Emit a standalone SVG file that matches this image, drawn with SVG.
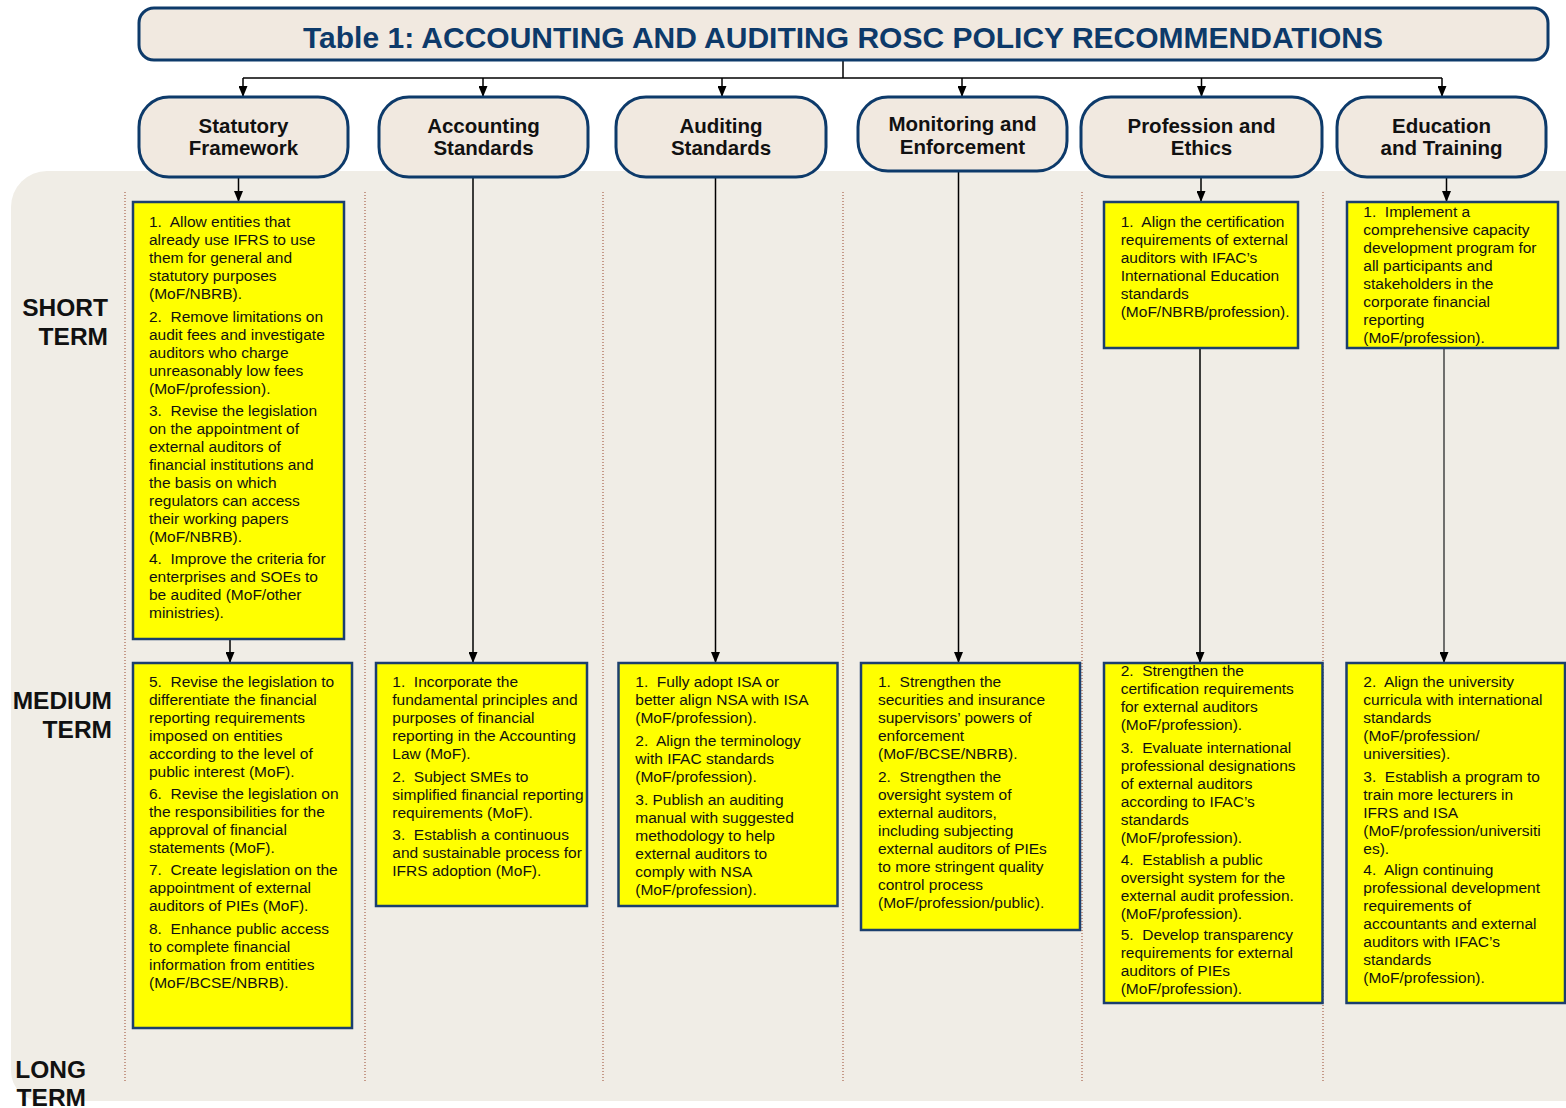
<svg xmlns="http://www.w3.org/2000/svg" width="1566" height="1108" viewBox="0 0 1566 1108">
  <style>
    .panel { fill: #f0ede6; }
    .title-box { fill: #f1e9e0; stroke: #0d3a6a; stroke-width: 3; }
    .title { font-family: "Liberation Sans", Arial, sans-serif; font-weight: bold; font-size: 30px; fill: #0d3a6a; text-anchor: middle; }
    .head-box { fill: #f1e9e0; stroke: #0d3a6a; stroke-width: 3; }
    .head { font-family: "Liberation Sans", Arial, sans-serif; font-weight: bold; font-size: 20.5px; fill: #111; text-anchor: middle; }
    .term { font-family: "Liberation Sans", Arial, sans-serif; font-weight: bold; font-size: 24.5px; fill: #111; text-anchor: end; }
    .rec-box { fill: #ffff00; stroke: #1b3f6e; stroke-width: 2.5; }
    .rec { font-family: "Liberation Sans", Arial, sans-serif; font-size: 15.5px; fill: #111; white-space: pre; }
    .sep { stroke: #b77f6b; stroke-width: 1.5; stroke-dasharray: 1 2; fill: none; }
    .link { stroke: #000; stroke-width: 1.5; fill: none; }
    .link-arrow { stroke: #000; stroke-width: 1.5; fill: none; marker-end: url(#arrow); }
  </style>
  <defs>
    <marker id="arrow" viewBox="0 0 10 10" refX="10" refY="5" markerWidth="11" markerHeight="9" markerUnits="userSpaceOnUse" orient="auto" preserveAspectRatio="none">
      <path d="M0,0 L10,5 L0,10 Z" fill="#000"/>
    </marker>
  </defs>

  <!-- background band holding the term rows -->
  <path class="panel" d="M47 171 H1570 V1101 H41 A30 30 0 0 1 11 1071 V207 A36 36 0 0 1 47 171 Z"/>

  <!-- column separators -->
  <g id="separators">
    <line class="sep" x1="125" y1="192" x2="125" y2="1081"/>
    <line class="sep" x1="365" y1="192" x2="365" y2="1081"/>
    <line class="sep" x1="603" y1="192" x2="603" y2="1081"/>
    <line class="sep" x1="843" y1="192" x2="843" y2="1081"/>
    <line class="sep" x1="1082" y1="192" x2="1082" y2="1081"/>
    <line class="sep" x1="1323" y1="192" x2="1323" y2="1081"/>
  </g>

  <!-- row labels -->
  <g id="term-labels">
    <text class="term" x="108" y="316">SHORT</text>
    <text class="term" x="108" y="345">TERM</text>
    <text class="term" x="112" y="709">MEDIUM</text>
    <text class="term" x="112" y="738">TERM</text>
    <text class="term" x="86" y="1078">LONG</text>
    <text class="term" x="86" y="1106">TERM</text>
  </g>

  <!-- connectors -->
  <g id="connectors">
    <line class="link" x1="843" y1="60" x2="843" y2="78"/>
    <line class="link" x1="243" y1="78" x2="1442" y2="78"/>
    <line class="link-arrow" x1="243" y1="78" x2="243" y2="97"/>
    <line class="link-arrow" x1="483" y1="78" x2="483" y2="97"/>
    <line class="link-arrow" x1="722" y1="78" x2="722" y2="97"/>
    <line class="link-arrow" x1="962" y1="78" x2="962" y2="97"/>
    <line class="link-arrow" x1="1201.5" y1="78" x2="1201.5" y2="97"/>
    <line class="link-arrow" x1="1442" y1="78" x2="1442" y2="97"/>

    <line class="link-arrow" x1="238.5" y1="178" x2="238.5" y2="202"/>
    <line class="link-arrow" x1="230" y1="639" x2="230" y2="663"/>
    <line class="link-arrow" x1="473" y1="178" x2="473" y2="663"/>
    <line class="link-arrow" x1="715.5" y1="178" x2="715.5" y2="663"/>
    <line class="link-arrow" x1="958.5" y1="172" x2="958.5" y2="663"/>
    <line class="link-arrow" x1="1201" y1="178" x2="1201" y2="202"/>
    <line class="link-arrow" x1="1200" y1="348" x2="1200" y2="663"/>
    <line class="link-arrow" x1="1446.5" y1="178" x2="1446.5" y2="202"/>
    <line class="link-arrow" x1="1444" y1="348" x2="1444" y2="663" style="stroke:#444"/>
  </g>

  <!-- title -->
  <g id="title">
    <rect class="title-box" x="139" y="8" width="1409" height="52" rx="15"/>
    <text class="title" x="843" y="48">Table 1: ACCOUNTING AND AUDITING ROSC POLICY RECOMMENDATIONS</text>
  </g>

  <!-- category headers -->
  <g id="head-statutory">
    <rect class="head-box" x="139" y="97" width="209" height="80" rx="30"/>
    <text class="head" x="243.5" y="133">Statutory</text>
    <text class="head" x="243.5" y="155">Framework</text>
  </g>
  <g id="head-accounting">
    <rect class="head-box" x="379" y="97" width="209" height="80" rx="30"/>
    <text class="head" x="483.5" y="133">Accounting</text>
    <text class="head" x="483.5" y="155">Standards</text>
  </g>
  <g id="head-auditing">
    <rect class="head-box" x="616" y="97" width="210" height="80" rx="30"/>
    <text class="head" x="721" y="133">Auditing</text>
    <text class="head" x="721" y="155">Standards</text>
  </g>
  <g id="head-monitoring">
    <rect class="head-box" x="858" y="97" width="209" height="74" rx="30"/>
    <text class="head" x="962.5" y="131">Monitoring and</text>
    <text class="head" x="962.5" y="154">Enforcement</text>
  </g>
  <g id="head-profession">
    <rect class="head-box" x="1081" y="97" width="241" height="80" rx="30"/>
    <text class="head" x="1201.5" y="133">Profession and</text>
    <text class="head" x="1201.5" y="155">Ethics</text>
  </g>
  <g id="head-education">
    <rect class="head-box" x="1337" y="97" width="209" height="80" rx="30"/>
    <text class="head" x="1441.5" y="133">Education</text>
    <text class="head" x="1441.5" y="155">and Training</text>
  </g>

  <!-- Statutory Framework: short term -->
  <g id="rec-statutory-short">
    <rect class="rec-box" x="133" y="202" width="211" height="437"/>
    <text class="rec">
      <tspan x="149" y="227">1.  Allow entities that</tspan>
      <tspan x="149" y="245">already use IFRS to use</tspan>
      <tspan x="149" y="263">them for general and</tspan>
      <tspan x="149" y="281">statutory purposes</tspan>
      <tspan x="149" y="299">(MoF/NBRB).</tspan>
      <tspan x="149" y="322">2.  Remove limitations on</tspan>
      <tspan x="149" y="340">audit fees and investigate</tspan>
      <tspan x="149" y="358">auditors who charge</tspan>
      <tspan x="149" y="376">unreasonably low fees</tspan>
      <tspan x="149" y="394">(MoF/profession).</tspan>
      <tspan x="149" y="416">3.  Revise the legislation</tspan>
      <tspan x="149" y="434">on the appointment of</tspan>
      <tspan x="149" y="452">external auditors of</tspan>
      <tspan x="149" y="470">financial institutions and</tspan>
      <tspan x="149" y="488">the basis on which</tspan>
      <tspan x="149" y="506">regulators can access</tspan>
      <tspan x="149" y="524">their working papers</tspan>
      <tspan x="149" y="542">(MoF/NBRB).</tspan>
      <tspan x="149" y="564">4.  Improve the criteria for</tspan>
      <tspan x="149" y="582">enterprises and SOEs to</tspan>
      <tspan x="149" y="600">be audited (MoF/other</tspan>
      <tspan x="149" y="618">ministries).</tspan>
    </text>
  </g>

  <!-- Statutory Framework: medium term -->
  <g id="rec-statutory-medium">
    <rect class="rec-box" x="133" y="663" width="219" height="365"/>
    <text class="rec">
      <tspan x="149" y="686.7">5.  Revise the legislation to</tspan>
      <tspan x="149" y="704.7">differentiate the financial</tspan>
      <tspan x="149" y="722.7">reporting requirements</tspan>
      <tspan x="149" y="740.7">imposed on entities</tspan>
      <tspan x="149" y="758.7">according to the level of</tspan>
      <tspan x="149" y="776.7">public interest (MoF).</tspan>
      <tspan x="149" y="799.3">6.  Revise the legislation on</tspan>
      <tspan x="149" y="817.3">the responsibilities for the</tspan>
      <tspan x="149" y="835.3">approval of financial</tspan>
      <tspan x="149" y="853.3">statements (MoF).</tspan>
      <tspan x="149" y="875">7.  Create legislation on the</tspan>
      <tspan x="149" y="893">appointment of external</tspan>
      <tspan x="149" y="911">auditors of PIEs (MoF).</tspan>
      <tspan x="149" y="934.3">8.  Enhance public access</tspan>
      <tspan x="149" y="952.3">to complete financial</tspan>
      <tspan x="149" y="970.3">information from entities</tspan>
      <tspan x="149" y="988.3">(MoF/BCSE/NBRB).</tspan>
    </text>
  </g>

  <!-- Accounting Standards: medium term -->
  <g id="rec-accounting-medium">
    <rect class="rec-box" x="376" y="663" width="211" height="243"/>
    <text class="rec">
      <tspan x="392.3" y="686.7">1.  Incorporate the</tspan>
      <tspan x="392.3" y="704.7">fundamental principles and</tspan>
      <tspan x="392.3" y="722.7">purposes of financial</tspan>
      <tspan x="392.3" y="740.7">reporting in the Accounting</tspan>
      <tspan x="392.3" y="758.7">Law (MoF).</tspan>
      <tspan x="392.3" y="781.7">2.  Subject SMEs to</tspan>
      <tspan x="392.3" y="799.7">simplified financial reporting</tspan>
      <tspan x="392.3" y="817.7">requirements (MoF).</tspan>
      <tspan x="392.3" y="840">3.  Establish a continuous</tspan>
      <tspan x="392.3" y="858">and sustainable process for</tspan>
      <tspan x="392.3" y="876">IFRS adoption (MoF).</tspan>
    </text>
  </g>

  <!-- Auditing Standards: medium term -->
  <g id="rec-auditing-medium">
    <rect class="rec-box" x="618.5" y="663" width="219" height="243"/>
    <text class="rec">
      <tspan x="635.3" y="686.7">1.  Fully adopt ISA or</tspan>
      <tspan x="635.3" y="704.7">better align NSA with ISA</tspan>
      <tspan x="635.3" y="722.7">(MoF/profession).</tspan>
      <tspan x="635.3" y="745.7">2.  Align the terminology</tspan>
      <tspan x="635.3" y="763.7">with IFAC standards</tspan>
      <tspan x="635.3" y="781.7">(MoF/profession).</tspan>
      <tspan x="635.3" y="805">3. Publish an auditing</tspan>
      <tspan x="635.3" y="823">manual with suggested</tspan>
      <tspan x="635.3" y="841">methodology to help</tspan>
      <tspan x="635.3" y="859">external auditors to</tspan>
      <tspan x="635.3" y="877">comply with NSA</tspan>
      <tspan x="635.3" y="895">(MoF/profession).</tspan>
    </text>
  </g>

  <!-- Monitoring and Enforcement: medium term -->
  <g id="rec-monitoring-medium">
    <rect class="rec-box" x="861" y="663" width="219" height="267"/>
    <text class="rec">
      <tspan x="878" y="686.7">1.  Strengthen the</tspan>
      <tspan x="878" y="704.7">securities and insurance</tspan>
      <tspan x="878" y="722.7">supervisors’ powers of</tspan>
      <tspan x="878" y="740.7">enforcement</tspan>
      <tspan x="878" y="758.7">(MoF/BCSE/NBRB).</tspan>
      <tspan x="878" y="781.7">2.  Strengthen the</tspan>
      <tspan x="878" y="799.7">oversight system of</tspan>
      <tspan x="878" y="817.7">external auditors,</tspan>
      <tspan x="878" y="835.7">including subjecting</tspan>
      <tspan x="878" y="853.7">external auditors of PIEs</tspan>
      <tspan x="878" y="871.7">to more stringent quality</tspan>
      <tspan x="878" y="889.7">control process</tspan>
      <tspan x="878" y="907.7">(MoF/profession/public).</tspan>
    </text>
  </g>

  <!-- Profession and Ethics: short term -->
  <g id="rec-profession-short">
    <rect class="rec-box" x="1104" y="202" width="194" height="146"/>
    <text class="rec">
      <tspan x="1120.7" y="226.7">1.  Align the certification</tspan>
      <tspan x="1120.7" y="244.7">requirements of external</tspan>
      <tspan x="1120.7" y="262.7">auditors with IFAC’s</tspan>
      <tspan x="1120.7" y="280.7">International Education</tspan>
      <tspan x="1120.7" y="298.7">standards</tspan>
      <tspan x="1120.7" y="316.7">(MoF/NBRB/profession).</tspan>
    </text>
  </g>

  <!-- Profession and Ethics: medium term -->
  <g id="rec-profession-medium">
    <rect class="rec-box" x="1104" y="663" width="218.5" height="340"/>
    <text class="rec">
      <tspan x="1120.7" y="676">2.  Strengthen the</tspan>
      <tspan x="1120.7" y="694">certification requirements</tspan>
      <tspan x="1120.7" y="712">for external auditors</tspan>
      <tspan x="1120.7" y="730">(MoF/profession).</tspan>
      <tspan x="1120.7" y="753.3">3.  Evaluate international</tspan>
      <tspan x="1120.7" y="771.3">professional designations</tspan>
      <tspan x="1120.7" y="789.3">of external auditors</tspan>
      <tspan x="1120.7" y="807.3">according to IFAC’s</tspan>
      <tspan x="1120.7" y="825.3">standards</tspan>
      <tspan x="1120.7" y="843.3">(MoF/profession).</tspan>
      <tspan x="1120.7" y="865">4.  Establish a public</tspan>
      <tspan x="1120.7" y="883">oversight system for the</tspan>
      <tspan x="1120.7" y="901">external audit profession.</tspan>
      <tspan x="1120.7" y="919">(MoF/profession).</tspan>
      <tspan x="1120.7" y="940">5.  Develop transparency</tspan>
      <tspan x="1120.7" y="958">requirements for external</tspan>
      <tspan x="1120.7" y="976">auditors of PIEs</tspan>
      <tspan x="1120.7" y="994">(MoF/profession).</tspan>
    </text>
  </g>

  <!-- Education and Training: short term -->
  <g id="rec-education-short">
    <rect class="rec-box" x="1347" y="202" width="211" height="146"/>
    <text class="rec">
      <tspan x="1363.3" y="217.3">1.  Implement a</tspan>
      <tspan x="1363.3" y="235.3">comprehensive capacity</tspan>
      <tspan x="1363.3" y="253.3">development program for</tspan>
      <tspan x="1363.3" y="271.3">all participants and</tspan>
      <tspan x="1363.3" y="289.3">stakeholders in the</tspan>
      <tspan x="1363.3" y="307.3">corporate financial</tspan>
      <tspan x="1363.3" y="325.3">reporting</tspan>
      <tspan x="1363.3" y="343.3">(MoF/profession).</tspan>
    </text>
  </g>

  <!-- Education and Training: medium term -->
  <g id="rec-education-medium">
    <rect class="rec-box" x="1346.5" y="663" width="218.5" height="340"/>
    <text class="rec">
      <tspan x="1363.3" y="686.7">2.  Align the university</tspan>
      <tspan x="1363.3" y="704.7">curricula with international</tspan>
      <tspan x="1363.3" y="722.7">standards</tspan>
      <tspan x="1363.3" y="740.7">(MoF/profession/</tspan>
      <tspan x="1363.3" y="758.7">universities).</tspan>
      <tspan x="1363.3" y="781.7">3.  Establish a program to</tspan>
      <tspan x="1363.3" y="799.7">train more lecturers in</tspan>
      <tspan x="1363.3" y="817.7">IFRS and ISA</tspan>
      <tspan x="1363.3" y="835.7">(MoF/profession/universiti</tspan>
      <tspan x="1363.3" y="853.7">es).</tspan>
      <tspan x="1363.3" y="875">4.  Align continuing</tspan>
      <tspan x="1363.3" y="893">professional development</tspan>
      <tspan x="1363.3" y="911">requirements of</tspan>
      <tspan x="1363.3" y="929">accountants and external</tspan>
      <tspan x="1363.3" y="947">auditors with IFAC’s</tspan>
      <tspan x="1363.3" y="965">standards</tspan>
      <tspan x="1363.3" y="983">(MoF/profession).</tspan>
    </text>
  </g>
</svg>
